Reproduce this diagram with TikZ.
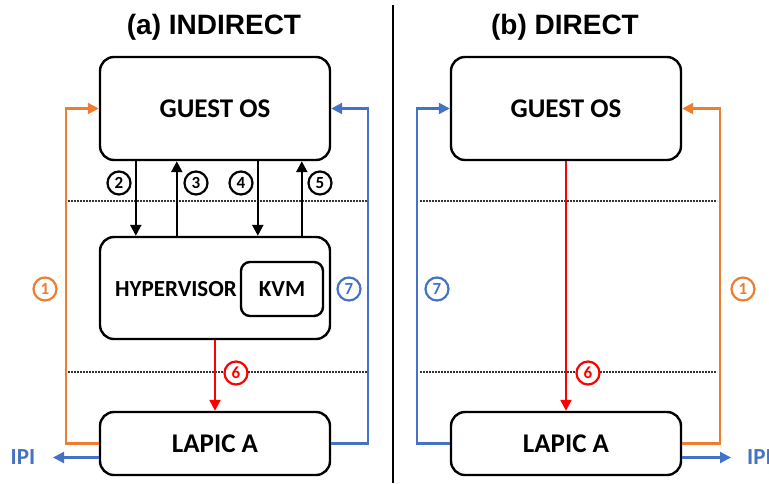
\documentclass[tikz,border=0pt]{standalone}
\usepackage{fontspec}
\setmainfont{Carlito}
\newfontfamily\titlefont{Liberation Sans}
\usetikzlibrary{arrows.meta}
\definecolor{ipiorange}{HTML}{ED7D31}
\definecolor{ipiblue}{HTML}{4472C4}
\definecolor{ipired}{HTML}{FF0000}
\begin{document}
\begin{tikzpicture}[x=1pt,y=-1pt,
  box/.style={draw=black,line width=2.4pt,rounded corners=14pt,fill=white,
    inner sep=0pt,font=\bfseries\fontsize{27}{27}\selectfont},
  kvmbox/.style={draw=black,line width=2.4pt,rounded corners=9pt,
    inner sep=0pt,minimum width=82pt,minimum height=54pt,
    font=\bfseries\fontsize{23}{23}\selectfont},
  wire/.style={line width=2.3pt,-{Triangle[length=11pt,width=11pt]}},
  sepline/.style={line width=2.2pt,black!80,dash pattern=on 1.6pt off 1.4pt},
  num/.style={circle,draw=black,text=black,line width=2.2pt,fill=white,minimum size=23pt,
    inner sep=0pt,font=\bfseries\fontsize{17}{17}\selectfont},
  orangenum/.style={num,draw=ipiorange,text=ipiorange},
  bluenum/.style={num,draw=ipiblue,text=ipiblue},
  rednum/.style={num,draw=ipired,text=ipired},
  titletext/.style={font=\titlefont\bfseries\fontsize{28}{28}\selectfont},
  ipitext/.style={text=ipiblue,font=\bfseries\fontsize{23}{23}\selectfont}]
\useasboundingbox (0,0) rectangle (769,483);

% panel divider
\draw[line width=2.2pt] (393,5) -- (393,483);

% titles
\node[titletext] (ttlA) at (214,27) {(a) INDIRECT};
\node[titletext] (ttlB) at (565,27) {(b) DIRECT};

% layer boundaries
\draw[sepline] (68,201) -- (367,201);
\draw[sepline] (68,372) -- (367,372);
\draw[sepline] (420,201) -- (717,201);
\draw[sepline] (420,372) -- (717,372);

% ---------- (a) indirect ----------
\node[box,minimum width=230pt,minimum height=103pt] (guestA) at (215,108.5) {GUEST OS};
\node[box,minimum width=230pt,minimum height=102pt] (hypA) at (215,288) {};
\node[kvmbox] (kvm) at (282,289) {KVM};
\node[font=\bfseries\fontsize{23}{23}\selectfont] (hyptxt) at (176,289) {HYPERVISOR};
\node[box,minimum width=230pt,minimum height=63pt] (lapA) at (215,443.5) {LAPIC A};

\draw[wire] ([xshift=37pt]guestA.south west) -- ([xshift=37pt]hypA.north west);
\draw[wire] ([xshift=78pt]hypA.north west) -- ([xshift=78pt]guestA.south west);
\draw[wire] ([xshift=159pt]guestA.south west) -- ([xshift=159pt]hypA.north west);
\draw[wire] ([xshift=203pt]hypA.north west) -- ([xshift=203pt]guestA.south west);
\node[num] (n2) at (119,183) {2};
\node[num] (n3) at (196,183) {3};
\node[num] (n4) at (241,183) {4};
\node[num] (n5) at (320,183) {5};

\draw[wire,ipired] (hypA.south) -- (lapA.north);
\node[rednum] (n6a) at (236,373) {6};

\coordinate (railAL) at (66,0);
\coordinate (railAR) at (368,0);
\draw[wire,ipiorange] (lapA.west) -- (lapA.west -| railAL) -- (guestA.west -| railAL) -- (guestA.west);
\node[orangenum] (n1a) at (45,289) {1};
\draw[wire,ipiblue] (lapA.east) -- (lapA.east -| railAR) -- (guestA.east -| railAR) -- (guestA.east);
\node[bluenum] (n7a) at (349,289) {7};

\coordinate (ipiendA) at (53,457.5);
\draw[wire,ipiblue] ([yshift=-14pt]lapA.west) -- (ipiendA);
\node[ipitext] (ipiA) at (23,457) {IPI};

% ---------- (b) direct ----------
\node[box,minimum width=230pt,minimum height=103pt] (guestB) at (566,108.5) {GUEST OS};
\node[box,minimum width=230pt,minimum height=63pt] (lapB) at (566,443.5) {LAPIC A};

\draw[wire,ipired] (guestB.south) -- (lapB.north);
\node[rednum] (n6b) at (588,373) {6};

\coordinate (railBL) at (417,0);
\coordinate (railBR) at (720,0);
\draw[wire,ipiblue] (lapB.west) -- (lapB.west -| railBL) -- (guestB.west -| railBL) -- (guestB.west);
\node[bluenum] (n7b) at (437,289) {7};
\draw[wire,ipiorange] (lapB.east) -- (lapB.east -| railBR) -- (guestB.east -| railBR) -- (guestB.east);
\node[orangenum] (n1b) at (743,289) {1};

\coordinate (ipiendB) at (731,457.5);
\draw[wire,ipiblue] ([yshift=-14pt]lapB.east) -- (ipiendB);
\node[ipitext,anchor=west,inner sep=0pt] (ipiB) at (747,457) {IPI};
\end{tikzpicture}
\end{document}
